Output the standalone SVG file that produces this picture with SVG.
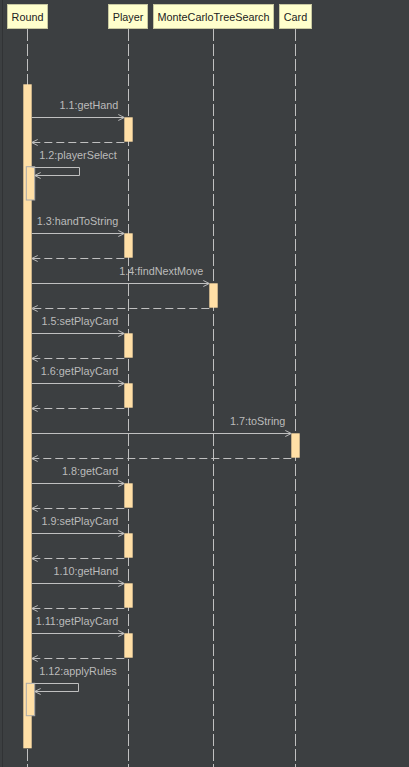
<svg xmlns="http://www.w3.org/2000/svg" width="409" height="767" viewBox="0 0 409 767">
<style>
.bg{fill:#3c3f41}
.obj rect{fill:#ffffcc;stroke:#c8c8a0;stroke-width:1}
.obj text{font-family:"Liberation Sans",Arial,sans-serif;font-size:10.8px;fill:#222;text-anchor:middle}
.life{stroke:#c0c0c0;stroke-width:1;stroke-dasharray:12 3;fill:none}
.act{fill:#ffdfa6;stroke:none}
.sact{fill:#ffdfa6;stroke:#a8a8a8;stroke-width:1}
.call{stroke:#c0c0c0;stroke-width:1;fill:none;marker-end:url(#open)}
.ret{stroke:#c0c0c0;stroke-width:1;fill:none;stroke-dasharray:8 4;marker-end:url(#open)}
.lbl{font-family:"Liberation Sans",Arial,sans-serif;font-size:10.8px;fill:#bbbbbb;text-anchor:end}
.lbls{font-family:"Liberation Sans",Arial,sans-serif;font-size:10.8px;fill:#bbbbbb;text-anchor:start}
</style>
<defs>
<marker id="open" viewBox="0 0 10 10" refX="10" refY="5" markerWidth="6" markerHeight="8" markerUnits="userSpaceOnUse" orient="auto">
<path d="M0,0 L10,5 L0,10" fill="none" stroke="#c0c0c0" stroke-width="1.6"/>
</marker>
</defs>
<rect class="bg" x="0" y="0" width="409" height="767"/>
<line x1="2.5" y1="0" x2="2.5" y2="767" stroke="#313335" stroke-width="1"/>

<g id="lifelines">
<line class="life" x1="27.5" y1="29" x2="27.5" y2="767"/>
<line class="life" x1="128.5" y1="29" x2="128.5" y2="767"/>
<line class="life" x1="213.5" y1="29" x2="213.5" y2="767"/>
<line class="life" x1="295.5" y1="29" x2="295.5" y2="767"/>
</g>

<g id="Round" class="obj">
<rect x="7.5" y="4.5" width="40" height="24"/>
<text x="27.5" y="20.5">Round</text>
</g>
<g id="Player" class="obj">
<rect x="108.5" y="4.5" width="39" height="24"/>
<text x="128" y="20.5">Player</text>
</g>
<g id="MonteCarloTreeSearch" class="obj">
<rect x="153.5" y="4.5" width="120" height="24"/>
<text x="213.5" y="20.5">MonteCarloTreeSearch</text>
</g>
<g id="Card" class="obj">
<rect x="279.5" y="4.5" width="32" height="24"/>
<text x="295.5" y="20.5">Card</text>
</g>

<g id="activations">
<rect class="act" x="23.3" y="84.3" width="8.4" height="664"/>
<rect class="act" x="124.3" y="117.3" width="8.4" height="24.4"/>
<rect class="sact" x="26.3" y="166.7" width="8.4" height="33.3"/>
<rect class="act" x="124.3" y="233.3" width="8.4" height="24.4"/>
<rect class="act" x="209.3" y="283.3" width="8.4" height="24.4"/>
<rect class="act" x="124.3" y="333.3" width="8.4" height="24.4"/>
<rect class="act" x="124.3" y="383.3" width="8.4" height="24.4"/>
<rect class="act" x="291.3" y="433.3" width="8.4" height="24.4"/>
<rect class="act" x="124.3" y="483.3" width="8.4" height="24.4"/>
<rect class="act" x="124.3" y="533.3" width="8.4" height="24.4"/>
<rect class="act" x="124.3" y="583.3" width="8.4" height="24.4"/>
<rect class="act" x="124.3" y="633.3" width="8.4" height="24.4"/>
<rect class="sact" x="26.3" y="683.3" width="8.4" height="32.4"/>
</g>

<g id="connectors">
<line class="call" x1="31.7" y1="117.5" x2="124.3" y2="117.5"/>
<line class="ret" x1="124.3" y1="142.5" x2="31.7" y2="142.5"/>
<polyline class="call" points="31.7,167.5 79.5,167.5 79.5,175.5 34.7,175.5"/>
<line class="call" x1="31.7" y1="233.5" x2="124.3" y2="233.5"/>
<line class="ret" x1="124.3" y1="258.5" x2="31.7" y2="258.5"/>
<line class="call" x1="31.7" y1="283.5" x2="209.3" y2="283.5"/>
<line class="ret" x1="209.3" y1="308.5" x2="31.7" y2="308.5"/>
<line class="call" x1="31.7" y1="333.5" x2="124.3" y2="333.5"/>
<line class="ret" x1="124.3" y1="358.5" x2="31.7" y2="358.5"/>
<line class="call" x1="31.7" y1="383.5" x2="124.3" y2="383.5"/>
<line class="ret" x1="124.3" y1="408.5" x2="31.7" y2="408.5"/>
<line class="call" x1="31.7" y1="433.5" x2="291.3" y2="433.5"/>
<line class="ret" x1="291.3" y1="458.5" x2="31.7" y2="458.5"/>
<line class="call" x1="31.7" y1="483.5" x2="124.3" y2="483.5"/>
<line class="ret" x1="124.3" y1="508.5" x2="31.7" y2="508.5"/>
<line class="call" x1="31.7" y1="533.5" x2="124.3" y2="533.5"/>
<line class="ret" x1="124.3" y1="558.5" x2="31.7" y2="558.5"/>
<line class="call" x1="31.7" y1="583.5" x2="124.3" y2="583.5"/>
<line class="ret" x1="124.3" y1="608.5" x2="31.7" y2="608.5"/>
<line class="call" x1="31.7" y1="633.5" x2="124.3" y2="633.5"/>
<line class="ret" x1="124.3" y1="658.5" x2="31.7" y2="658.5"/>
<polyline class="call" points="31.7,683.5 78.5,683.5 78.5,691.5 34.7,691.5"/>

<text class="lbl" x="118.3" y="109">1.1:getHand</text>
<text class="lbls" x="39.3" y="158.7">1.2:playerSelect</text>
<text class="lbl" x="118.3" y="225">1.3:handToString</text>
<text class="lbl" x="203.3" y="275">1.4:findNextMove</text>
<text class="lbl" x="118.3" y="325">1.5:setPlayCard</text>
<text class="lbl" x="118.3" y="375">1.6:getPlayCard</text>
<text class="lbl" x="285.3" y="425">1.7:toString</text>
<text class="lbl" x="118.3" y="475">1.8:getCard</text>
<text class="lbl" x="118.3" y="525">1.9:setPlayCard</text>
<text class="lbl" x="118.3" y="575">1.10:getHand</text>
<text class="lbl" x="118.3" y="625">1.11:getPlayCard</text>
<text class="lbls" x="39.3" y="675">1.12:applyRules</text>
</g>
</svg>
